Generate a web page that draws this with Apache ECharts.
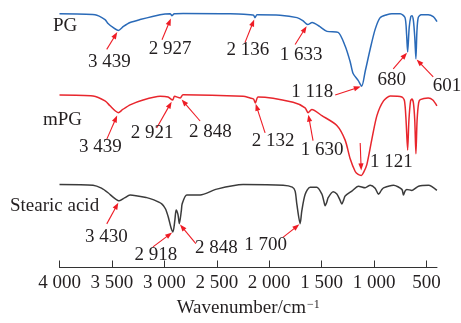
<!DOCTYPE html>
<html>
<head>
<meta charset="utf-8">
<script src="https://cdn.jsdelivr.net/npm/echarts@6/dist/echarts.min.js"></script>
<style>html,body{margin:0;padding:0;background:#fff}#c{width:461px;height:323px}</style>
</head>
<body>
<div id="c"></div>
<script>
// ---------- DATA (wavenumber in cm^-1, relative transmittance in a.u., stacked) ----------
const xTicks = [500, 1000, 1500, 2000, 2500, 3000, 3500, 4000];

const pgWn = [4000,3661,3566,3537,3490,3439,3390,3327,3232,3041,2946,2927,2905,2822,2371,2182,2150,2136,2116,1897,1735,1680,1633,1591,1520,1449,1343,1276,1228,1200,1152,1118,1085,1037,990,942,878,830,751,705,690,680,665,650,639,625,612,601,592,579,551,484,436,400];
const pgT  = [259,258,253,249,245,242,246,250,253,258,259,257,259,259.3,259,258,257.5,255,258,257.5,255,252,248,250,246,241,240,226,210,198,191,185,200,223,243,255,258,259,259,255,238,220,245,256,257,252,235,213,240,255,258,258,256,251];

const mpgWn = [4000,3680,3566,3518,3470,3439,3400,3327,3203,3041,2965,2921,2903,2848,2822,2249,2182,2150,2132,2106,1772,1658,1630,1594,1498,1355,1276,1228,1180,1152,1121,1100,1069,1021,973,910,846,735,710,695,680,668,652,639,625,612,601,590,575,560,484,440,401];
const mpgT  = [176,175,170,165,160,158,161,166,171,174.7,174,171,174.7,173,176.3,174.7,173,172,168,174,168.7,163,158,161.3,155,145,130,111,98,95,94,97,105,131,155,170,175,174,170,150,120,150,170,172,168,150,116,150,168,171.3,173,171,165];

const saWn = [4000,3680,3600,3537,3480,3430,3380,3327,3168,3100,3025,2990,2962,2935,2918,2900,2888,2870,2857,2838,2830,2786,2659,2500,2249,1867,1780,1753,1737,1705,1689,1657,1610,1546,1498,1480,1467,1450,1438,1390,1355,1330,1307,1290,1276,1212,1149,1085,1037,990,958,930,910,815,735,720,705,687,639,576,481,401];
const saT  = [84.7,84,81,76.3,71,68,71,74,71.3,69,65,60,51.3,40,36.3,48,58.7,54,44.7,58,65,74,74,80,84.7,84,82,78,65,44.7,58,74.7,82,82,75,68,63,67,71.3,77.3,75,70,64.7,69,73,78,83,81.3,84,81,74.7,79,81.3,84,79.7,74,78,79.7,78.7,83,84,78.7];

const seriesNames = ['PG', 'mPG', 'Stearic acid'];

// peak annotations: series index, peak wavenumber (cm^-1), label text
const peakSeries = [0,0,0,0,0,0,0, 1,1,1,1,1,1, 2,2,2,2];
const peakWn     = [3439,2927,2136,1633,1118,680,601, 3439,2921,2848,2132,1630,1121, 3430,2918,2857,1705];
const peakLabel  = ['3 439','2 927','2 136','1 633','1 118','680','601',
                    '3 439','2 921','2 848','2 132','1 630','1 121',
                    '3 430','2 918','2 848','1 700'];

// ---------- LAYOUT / STYLE ----------
const FONT = '"Liberation Serif","Times New Roman",serif';
const FS = 19;
const colors = ['#2a6ab8', '#e8262d', '#3b3b3b'];
const arrowColor = '#ee1c25';
const textColor = '#231f20';
// arrow tail offset from peak pixel, text centre offset, gap at the arrow tip (pixels)
const annLayout = [
  {tail:[-11.6,19], text:[-9,32], gap:2},
  {tail:[-10,24], text:[-2,33], gap:3},
  {tail:[-10,25], text:[-7,32], gap:2},
  {tail:[-12.6,20], text:[-6.6,31], gap:2},
  {tail:[-26.5,8.7], text:[-49.5,6], gap:1},
  {tail:[-14.4,17], text:[-16,28], gap:1},
  {tail:[17.3,18], text:[31,27], gap:1},
  {tail:[-11.6,26.7], text:[-18,34], gap:3},
  {tail:[-16,28], text:[-20.6,33], gap:2},
  {tail:[19.8,23], text:[30,34], gap:2},
  {tail:[9.7,30], text:[17.7,38], gap:1},
  {tail:[5,28], text:[14,37], gap:2},
  {tail:[-1.2,-32.3], text:[30,-13], gap:5},
  {tail:[-12.5,23], text:[-13,36], gap:2},
  {tail:[-20,15], text:[-17,23], gap:1},
  {tail:[16.5,20], text:[37,24], gap:1},
  {tail:[-17.2,13.7], text:[-34.5,21], gap:1}
];
const seriesLabelPos = [[53,26],[43,120],[10,206]];

// ---------- BUILD ----------
const allWn = [pgWn, mpgWn, saWn];
const allT = [pgT, mpgT, saT];
function pairs(w, t){ return w.map((x,i)=>[x,t[i]]); }
function valueAt(si, wn){
  const w = allWn[si], t = allT[si];
  for (let i=0;i<w.length-1;i++){
    if (wn <= w[i] && wn >= w[i+1]){
      const f = (w[i]-wn)/(w[i]-w[i+1]);
      return t[i] + f*(t[i+1]-t[i]);
    }
  }
  return t[t.length-1];
}
function fmt(v){
  if (v >= 1000) return Math.floor(v/1000) + ' ' + String(v%1000).padStart(3,'0');
  return String(v);
}

const annData = peakWn.map((w,i)=>[w, valueAt(peakSeries[i], w), i]);

const chart = echarts.init(document.getElementById('c'), null, {renderer:'canvas'});
const lineSeries = seriesNames.map((n,si)=>({
  name:n, type:'line', data:pairs(allWn[si], allT[si]), showSymbol:false, symbol:'none',
  smooth:0.25, lineStyle:{color:colors[si], width:1.5}, z:2, silent:true
}));

chart.setOption({
  animation:false,
  backgroundColor:'#fff',
  grid:{left:59.5, right:24, top:0, bottom:50},
  xAxis:{
    type:'value', min:400, max:4000, inverse:true,
    axisLine:{show:true, onZero:false, lineStyle:{color:'#333', width:1}},
    axisTick:{show:true, inside:true, length:7, lineStyle:{color:'#333', width:1}, customValues:xTicks},
    axisLabel:{show:true, margin:6, color:textColor, fontFamily:FONT, fontSize:FS, formatter:fmt, customValues:xTicks},
    splitLine:{show:false},
    name:'Wavenumber/cm{sup|−1}', nameLocation:'middle', nameGap:31,
    nameTextStyle:{color:textColor, fontFamily:FONT, fontSize:FS,
      rich:{sup:{fontFamily:FONT, fontSize:12, verticalAlign:'top', color:textColor, padding:[0,0,8,1]}}}
  },
  yAxis:{type:'value', min:0, max:273, show:false},
  series: lineSeries.concat([{
    type:'custom', data:annData, z:5, silent:true,
    renderItem:function(params, api){
      const i = api.value(2);
      const L = annLayout[i];
      const p = api.coord([api.value(0), api.value(1)]);
      const tail = [p[0]+L.tail[0], p[1]+L.tail[1]];
      const dx = p[0]-tail[0], dy = p[1]-tail[1];
      const len = Math.hypot(dx,dy);
      const ux = dx/len, uy = dy/len;
      const tip = [p[0]-ux*L.gap, p[1]-uy*L.gap];
      const hl = 7, hw = 2.6;
      const base = [tip[0]-ux*hl, tip[1]-uy*hl];
      const nx = -uy, ny = ux;
      return {type:'group', children:[
        {type:'line', shape:{x1:tail[0], y1:tail[1], x2:base[0]+ux*1, y2:base[1]+uy*1},
          style:{stroke:arrowColor, lineWidth:1.1}},
        {type:'polygon', shape:{points:[tip,[base[0]+nx*hw, base[1]+ny*hw],[base[0]-nx*hw, base[1]-ny*hw]]},
          style:{fill:arrowColor}},
        {type:'text', x:p[0]+L.text[0], y:p[1]+L.text[1],
          style:{text:peakLabel[i], fontFamily:FONT, fontSize:FS, fill:textColor, align:'center', verticalAlign:'middle'}}
      ]};
    }
  }]),
  graphic: seriesNames.map((n,si)=>({
    type:'text', x:seriesLabelPos[si][0], y:seriesLabelPos[si][1], silent:true,
    style:{text:n, fontFamily:FONT, fontSize:FS, fill:textColor, align:'left', verticalAlign:'middle'}
  }))
});
</script>
</body>
</html>
